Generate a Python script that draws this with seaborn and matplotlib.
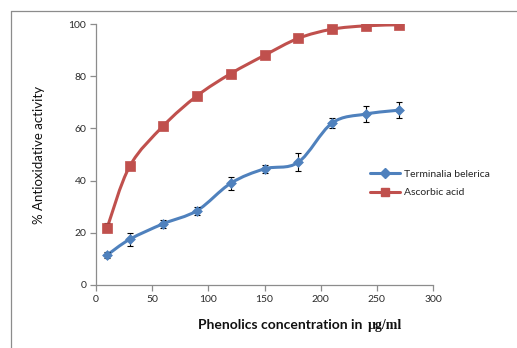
import numpy as np
import matplotlib
matplotlib.use("Agg")
import matplotlib.pyplot as plt
from matplotlib.path import Path
from matplotlib.patches import PathPatch
from matplotlib.lines import Line2D
import seaborn as sns

conc = [10, 30, 60, 90, 120, 150, 180, 210, 240, 270]
terminalia = [11.5, 17.5, 23.5, 28.5, 39.0, 44.5, 47.0, 62.0, 65.5, 67.0]
terminalia_err = [1.0, 2.5, 1.5, 1.5, 2.5, 1.5, 3.5, 2.0, 3.0, 3.0]
ascorbic = [22.0, 45.5, 61.0, 72.5, 81.0, 88.0, 94.5, 98.0, 99.3, 99.7]
ascorbic_err = [1.6, 0.8, 1.6, 0.5, 0.5, 0.5, 0.5, 0.5, 0.5, 0.5]

BLUE = "#4F81BD"
RED = "#C0504D"
FONT = "Lato"


def smooth_path(x, y):
    # excel-like smoothed line: catmull-rom segments as cubic beziers
    p = np.column_stack([x, y]).astype(float)
    ext = np.vstack([p[0], p, p[-1]])
    verts = [p[0]]
    codes = [Path.MOVETO]
    for i in range(1, len(ext) - 2):
        c1 = ext[i] + (ext[i + 1] - ext[i - 1]) / 6.0
        c2 = ext[i + 1] - (ext[i + 2] - ext[i]) / 6.0
        verts += [c1, c2, ext[i + 1]]
        codes += [Path.CURVE4] * 3
    return Path(verts, codes)


sns.set_style("white")
plt.rcParams["font.family"] = [FONT, "DejaVu Sans"]

fig = plt.figure(figsize=(5.17, 3.48), dpi=100)
ax = fig.add_axes([96 / 517, 1 - 285 / 348, (433 - 96) / 517, (285 - 24) / 348])

for xs, ys, err, col, mk, ms in [
    (conc, terminalia, terminalia_err, BLUE, "D", 5),
    (conc, ascorbic, ascorbic_err, RED, "s", 6.8),
]:
    ax.add_patch(PathPatch(smooth_path(xs, ys), facecolor="none", edgecolor=col,
                           lw=2.2, capstyle="round", zorder=2))
    ax.errorbar(xs, ys, yerr=err, fmt="none", ecolor="black", elinewidth=0.8,
                capsize=2.5, capthick=0.8, zorder=3)
    sns.scatterplot(x=xs, y=ys, ax=ax, marker=mk, s=ms ** 2, color=col,
                    edgecolor=col, linewidth=0.5, zorder=4, legend=False)

ax.set_xlim(0, 300)
ax.set_ylim(0, 100)
ax.set_xticks(range(0, 301, 50))
ax.set_yticks(range(0, 101, 20))
for s in ["top", "right"]:
    ax.spines[s].set_visible(False)
for s in ["left", "bottom"]:
    ax.spines[s].set_color("#8c8c8c")
    ax.spines[s].set_linewidth(0.9)
ax.tick_params(axis="both", direction="out", length=4, width=0.9, color="#8c8c8c",
               labelsize=7.5, labelcolor="#2b2b2b", pad=3)
ax.tick_params(left=True, bottom=True)

ax.set_ylabel("% Antioxidative activity", fontsize=9.5, color="#111111", labelpad=8)
ax.yaxis.set_label_coords(-0.15, 0.5)

fig.text(366 / 517, 1 - 325 / 348, "Phenolics concentration in ", ha="right", va="center",
         fontsize=10, fontweight="bold", color="#111111")
fig.text(368 / 517, 1 - 325 / 348, "μg/ml", ha="left", va="center",
         fontsize=10, fontweight="bold", color="#111111", family="Liberation Serif")

handles = [
    Line2D([], [], color=BLUE, lw=2.2, marker="D", markersize=5),
    Line2D([], [], color=RED, lw=2.2, marker="s", markersize=6),
]
fig.legend(handles, ["Terminalia belerica", "Ascorbic acid"], loc="center left",
           bbox_to_anchor=(370 / 517, 1 - 183.5 / 348), frameon=False, fontsize=7.5,
           handlelength=2.9, handletextpad=0.35, borderpad=0, borderaxespad=0,
           labelspacing=0.85)

# outer chart-area frame (left and top edges only visible)
fig.add_artist(Line2D([11 / 517, 11 / 517], [0, 1 - 11 / 348], transform=fig.transFigure,
                      color="#8c8c8c", lw=0.9))
fig.add_artist(Line2D([11 / 517, 1], [1 - 11 / 348, 1 - 11 / 348], transform=fig.transFigure,
                      color="#8c8c8c", lw=0.9))

fig.savefig("out.png", dpi=100, facecolor="white")
